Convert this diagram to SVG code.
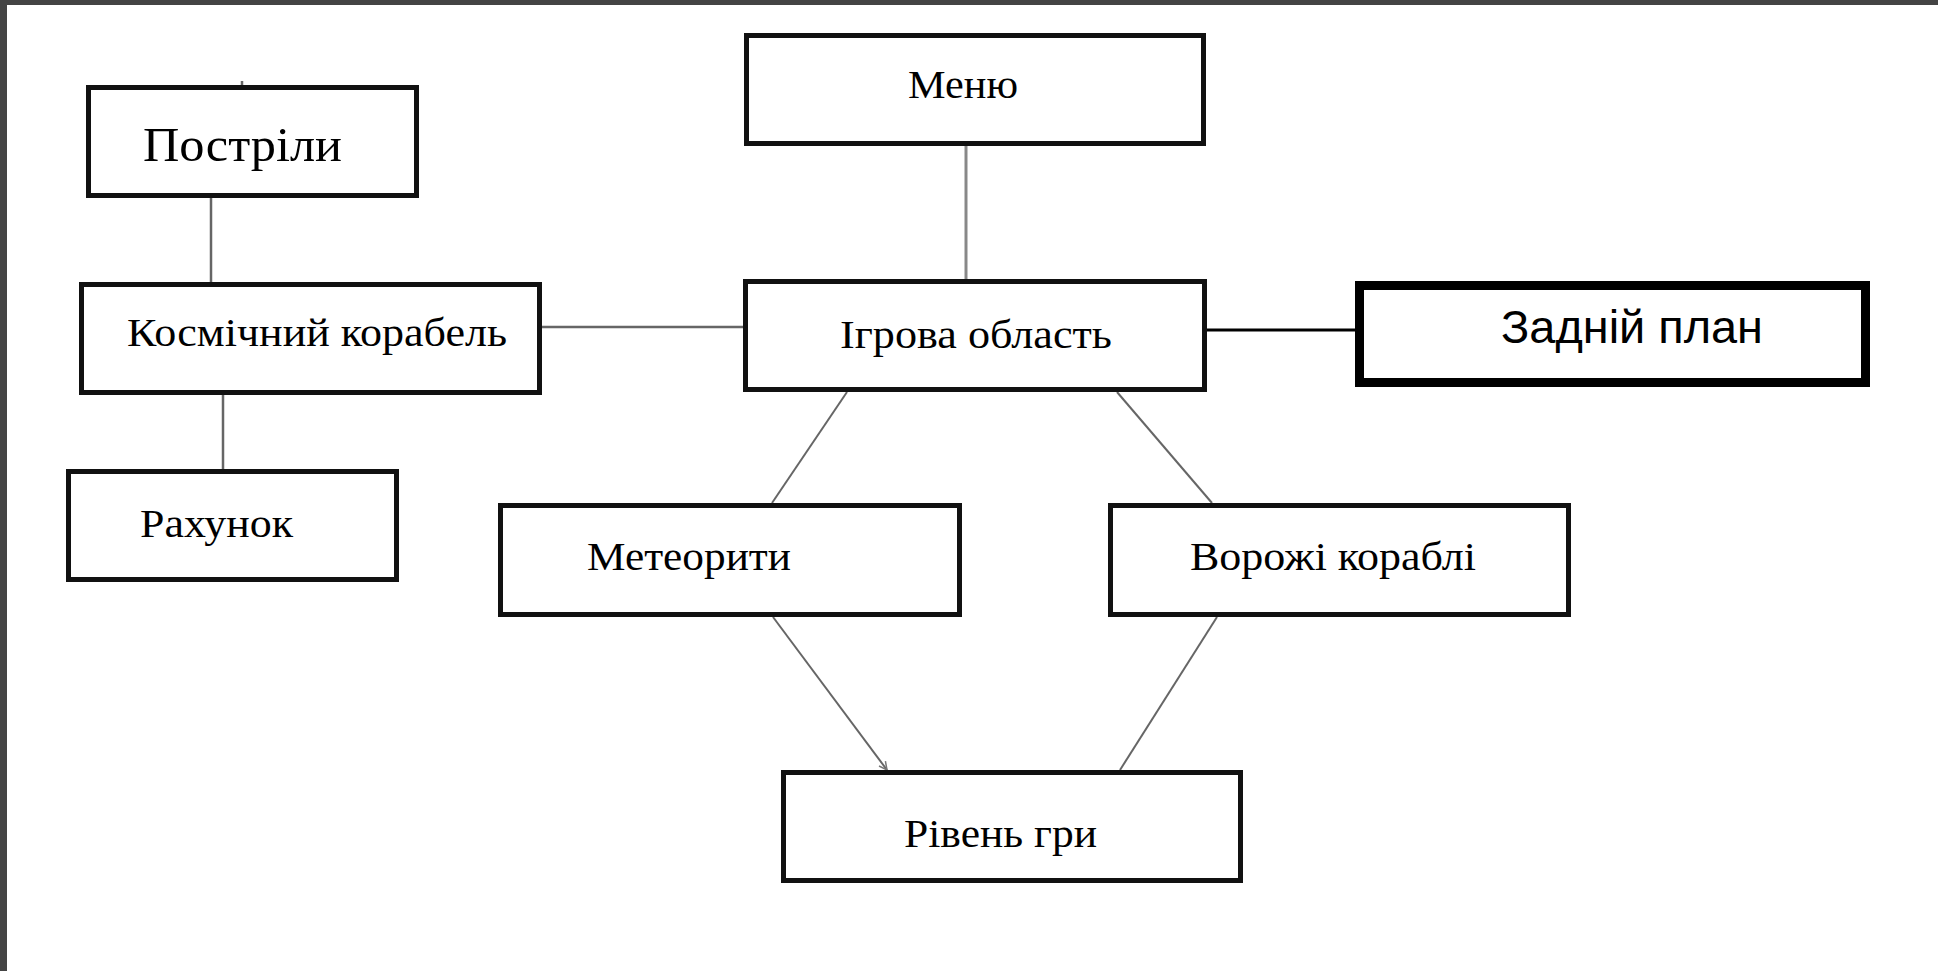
<svg xmlns="http://www.w3.org/2000/svg" width="1938" height="971" viewBox="0 0 1938 971">
<defs>
<style>
.box{fill:#fff;stroke:#111;stroke-width:5}
.bold{fill:#fff;stroke:#000;stroke-width:9}
.lbl{font-family:"Liberation Serif","Times New Roman",serif;font-size:40px;fill:#000}
.sans{font-family:"Liberation Sans",Arial,sans-serif;font-size:46px;fill:#000}
.ln{stroke:#666;stroke-width:2.5;fill:none}
</style>
<marker id="arr" markerWidth="12" markerHeight="12" refX="10" refY="6" orient="auto" markerUnits="userSpaceOnUse">
<polyline points="2,2 10,6 2,10" fill="none" stroke="#777" stroke-width="1.5"/>
</marker>
</defs>
<rect x="0" y="0" width="1938" height="971" fill="#fff"/>
<rect x="0" y="0" width="1938" height="5" fill="#444"/>
<rect x="0" y="0" width="7" height="971" fill="#444"/>
<g id="connectors">
<line class="ln" x1="242" y1="81" x2="242" y2="86"/>
<line class="ln" x1="211" y1="198" x2="211" y2="282"/>
<line class="ln" x1="223" y1="395" x2="223" y2="469"/>
<line class="ln" x1="542" y1="327" x2="743" y2="327" stroke="#555"/>
<line class="ln" x1="966" y1="146" x2="966" y2="279" style="stroke:#888;stroke-width:3"/>
<line x1="1207" y1="330" x2="1355" y2="330" stroke="#000" stroke-width="3"/>
<line class="ln" x1="847" y1="392" x2="772" y2="503" style="stroke-width:2"/>
<line class="ln" x1="1117" y1="392" x2="1212" y2="503" style="stroke-width:2"/>
<line class="ln" x1="773" y1="617" x2="887" y2="770" style="stroke-width:2" marker-end="url(#arr)"/>
<line class="ln" x1="1217" y1="617" x2="1120" y2="770" style="stroke-width:2"/>
</g>
<g id="n-postrily">
<rect class="box" x="88.5" y="87.5" width="328" height="108"/>
<text class="lbl" x="143" y="161" style="font-size:48px" textLength="199" lengthAdjust="spacingAndGlyphs">Постріли</text>
</g>
<g id="n-menu">
<rect class="box" x="746.5" y="35.5" width="457" height="108"/>
<text class="lbl" x="908" y="98" textLength="110" lengthAdjust="spacingAndGlyphs">Меню</text>
</g>
<g id="n-kosm">
<rect class="box" x="81.5" y="284.5" width="458" height="108"/>
<text class="lbl" x="127" y="346" textLength="380" lengthAdjust="spacingAndGlyphs">Космічний корабель</text>
</g>
<g id="n-igrova">
<rect class="box" x="745.5" y="281.5" width="459" height="108"/>
<text class="lbl" x="840" y="348" textLength="272" lengthAdjust="spacingAndGlyphs">Ігрова область</text>
</g>
<g id="n-zadniy">
<rect class="bold" x="1359.5" y="285.5" width="506" height="97"/>
<text class="sans" x="1501" y="343" textLength="262" lengthAdjust="spacingAndGlyphs">Задній план</text>
</g>
<g id="n-rakhunok">
<rect class="box" x="68.5" y="471.5" width="328" height="108"/>
<text class="lbl" x="140" y="537" textLength="153" lengthAdjust="spacingAndGlyphs">Рахунок</text>
</g>
<g id="n-meteority">
<rect class="box" x="500.5" y="505.5" width="459" height="109"/>
<text class="lbl" x="587" y="570" textLength="204" lengthAdjust="spacingAndGlyphs">Метеорити</text>
</g>
<g id="n-vorozhi">
<rect class="box" x="1110.5" y="505.5" width="458" height="109"/>
<text class="lbl" x="1190" y="570" textLength="286" lengthAdjust="spacingAndGlyphs">Ворожі кораблі</text>
</g>
<g id="n-riven">
<rect class="box" x="783.5" y="772.5" width="457" height="108"/>
<text class="lbl" x="904" y="847" textLength="193" lengthAdjust="spacingAndGlyphs">Рівень гри</text>
</g>
</svg>
